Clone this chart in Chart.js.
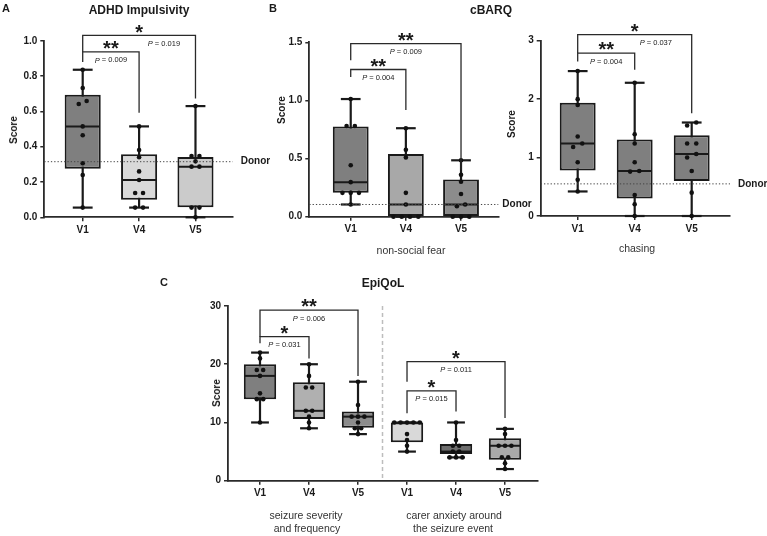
<!DOCTYPE html>
<html>
<head>
<meta charset="utf-8">
<script src="https://cdn.jsdelivr.net/npm/chart.js@4.4.1/dist/chart.umd.min.js"></script>
<style>
html,body{margin:0;padding:0;background:#fff;}
#stage{position:relative;width:767px;height:536px;overflow:hidden;font-family:"Liberation Sans",Arial,sans-serif;color:#1a1a1a;}
#stage canvas{position:absolute;left:0;top:0;}
.t{position:absolute;white-space:nowrap;transform:translate(-50%,-50%);line-height:1;}
.b{font-weight:bold;}
.letter{font-size:11px;font-weight:bold;}
.title{font-size:12px;font-weight:bold;}
.score{font-size:10px;font-weight:bold;transform:translate(-50%,-50%) rotate(-90deg);}
.sub{font-size:10.5px;color:#333;}
</style>
</head>
<body>
<div id="stage">
  <canvas id="cA" width="767" height="536"></canvas>
  <canvas id="cB1" width="767" height="536"></canvas>
  <canvas id="cB2" width="767" height="536"></canvas>
  <canvas id="cC" width="767" height="536"></canvas>

  <div class="t letter" style="left:6px;top:8px;">A</div>
  <div class="t title" style="left:139px;top:10px;">ADHD Impulsivity</div>
  <div class="t letter" style="left:273px;top:8px;">B</div>
  <div class="t title" style="left:491px;top:10px;">cBARQ</div>
  <div class="t letter" style="left:164px;top:282px;">C</div>
  <div class="t title" style="left:383px;top:283px;">EpiQoL</div>

  <div class="t score" style="left:14px;top:130px;">Score</div>
  <div class="t score" style="left:282px;top:110px;">Score</div>
  <div class="t score" style="left:512px;top:124px;">Score</div>
  <div class="t score" style="left:217px;top:393px;">Score</div>

  <div class="t sub" style="left:411px;top:250px;">non-social fear</div>
  <div class="t sub" style="left:637px;top:248px;">chasing</div>
  <div class="t sub" style="left:306px;top:515px;">seizure severity</div>
  <div class="t sub" style="left:307px;top:528px;">and frequency</div>
  <div class="t sub" style="left:454px;top:515px;">carer anxiety around</div>
  <div class="t sub" style="left:453px;top:528px;">the seizure event</div>
</div>

<script>
// ---------------- DATA ----------------
const visits = ['V1', 'V4', 'V5'];

// A: ADHD impulsivity
const adhdMin = [0.055, 0.055, 0.0];
const adhdQ1 = [0.275, 0.10, 0.057];
const adhdMedian = [0.515, 0.211, 0.287];
const adhdQ3 = [0.695, 0.357, 0.342];
const adhdMax = [0.836, 0.515, 0.63];
const adhdPoints = [
  [0.836, 0.733, 0.659, 0.642, 0.515, 0.465, 0.306, 0.24, 0.055],
  [0.515, 0.381, 0.34, 0.26, 0.211, 0.138, 0.138, 0.055, 0.055],
  [0.63, 0.347, 0.347, 0.317, 0.287, 0.287, 0.055, 0.055, 0.0]
];
const adhdDonor = 0.315;
const adhdStars = ['**', '*'];
const adhdP = ['0.009', '0.019'];

// B: cBARQ non-social fear
const fearMin = [0.105, 0, 0];
const fearQ1 = [0.205, 0, 0];
const fearMedian = [0.297, 0.105, 0.105];
const fearQ3 = [0.775, 0.54, 0.32];
const fearMax = [1.012, 0.761, 0.485];
const fearPoints = [
  [1.012, 0.78, 0.78, 0.442, 0.297, 0.205, 0.205, 0.205, 0.105],
  [0.761, 0.575, 0.51, 0.205, 0.105, 0, 0, 0, 0],
  [0.485, 0.36, 0.30, 0.195, 0.105, 0.09, 0, 0, 0]
];
const fearDonor = 0.105;
const fearStars = ['**', '**'];
const fearP = ['0.004', '0.009'];

// B: cBARQ chasing
const chaseMin = [0.42, 0, 0];
const chaseQ1 = [0.78, 0.30, 0.60];
const chaseMedian = [1.24, 0.77, 1.06];
const chaseQ3 = [1.94, 1.31, 1.38];
const chaseMax = [2.48, 2.28, 1.60];
const chasePoints = [
  [2.48, 2.0, 1.9, 1.36, 1.24, 1.18, 0.92, 0.62, 0.42],
  [2.28, 1.40, 1.24, 0.92, 0.77, 0.76, 0.36, 0.20, 0],
  [1.60, 1.55, 1.24, 1.24, 1.06, 1.0, 0.77, 0.40, 0]
];
const chaseDonor = 0.55;
const chaseStars = ['**', '*'];
const chaseP = ['0.004', '0.037'];

// C: EpiQoL seizure severity and frequency
const seizureMin = [10, 9, 8];
const seizureQ1 = [14, 10.6, 9.1];
const seizureMedian = [18, 12, 11];
const seizureQ3 = [20, 16.9, 11.9];
const seizureMax = [22, 20, 17];
const seizurePoints = [
  [22, 21, 19, 19, 18, 15, 14, 14, 10],
  [20, 18, 16, 16, 12, 12, 11, 10, 9],
  [17, 13, 11, 11, 11, 10, 9, 9, 8]
];
const seizureStars = ['*', '**'];
const seizureP = ['0.031', '0.006'];

// C: EpiQoL carer anxiety around the seizure event
const anxietyMin = [5, 4, 2];
const anxietyQ1 = [6.6, 4.6, 3.6];
const anxietyMedian = [10, 5, 6];
const anxietyQ3 = [10, 6.3, 7.3];
const anxietyMax = [10, 10, 8.9];
const anxietyPoints = [
  [10, 10, 10, 10, 10, 8, 7, 6, 5],
  [10, 7, 6, 6, 5, 5, 4, 4, 4],
  [8.9, 8, 6, 6, 6, 4, 4, 3, 2]
];
const anxietyStars = ['*', '*'];
const anxietyP = ['0.015', '0.011'];

// ---------------- RENDERING ----------------
const FONT = '"Liberation Sans", Arial, sans-serif';
Chart.defaults.font.family = FONT;
const YW = 30, XH = 30, PAGE_W = 767, PAGE_H = 536;

function swarm(vals, tol, step) {
  const idx = vals.map((v, i) => i).sort((a, b) => vals[a] - vals[b]);
  const off = new Array(vals.length).fill(0);
  let group = [idx[0]];
  const flush = () => {
    const n = group.length;
    group.forEach((k, j) => { off[k] = (j - (n - 1) / 2) * step; });
  };
  for (let m = 1; m < idx.length; m++) {
    if (vals[idx[m]] - vals[group[group.length - 1]] <= tol) group.push(idx[m]);
    else { flush(); group = [idx[m]]; }
  }
  flush();
  return off;
}

function drawP(ctx, text, cx, cy) {
  ctx.save();
  ctx.textBaseline = 'middle';
  ctx.textAlign = 'left';
  ctx.fillStyle = '#1a1a1a';
  const fi = 'italic 7.5px ' + FONT, fn = '7.5px ' + FONT;
  ctx.font = fi; const w1 = ctx.measureText('P').width;
  const rest = ' = ' + text;
  ctx.font = fn; const w2 = ctx.measureText(rest).width;
  let x = cx - (w1 + w2) / 2;
  ctx.font = fi; ctx.fillText('P', x, cy);
  ctx.font = fn; ctx.fillText(rest, x + w1, cy);
  ctx.restore();
}

function makeBoxChart(id, p) {
  const tol = 0.022 * p.yMax;
  const scatter = [];
  p.points.forEach((arr, i) => {
    const off = swarm(arr, tol, p.jitter);
    arr.forEach((v, k) => scatter.push({ x: i + off[k], y: v }));
  });
  const axisGrid = { display: true, drawOnChartArea: false, drawTicks: true, tickLength: 4, offset: false, color: '#2a2a2a', lineWidth: 1.5 };
  const axisBorder = { display: true, color: '#2a2a2a', width: 1.8 };
  const tickFont = { size: 10, weight: 'bold' };

  const decor = {
    id: 'decor',
    beforeDatasetsDraw(chart) {
      const ctx = chart.ctx, y = chart.scales.y, x = chart.scales.x;
      const bars = chart.getDatasetMeta(0).data;
      ctx.save();
      if (p.separator !== undefined) {
        ctx.strokeStyle = '#bdbdbd'; ctx.lineWidth = 1.5; ctx.setLineDash([4, 3]);
        const sx = x.getPixelForValue(p.separator);
        ctx.beginPath(); ctx.moveTo(sx, chart.chartArea.top); ctx.lineTo(sx, chart.chartArea.bottom); ctx.stroke();
        ctx.setLineDash([]);
      }
      ctx.strokeStyle = '#1a1a1a'; ctx.lineWidth = 2.2;
      p.min.forEach((mn, i) => {
        const bx = bars[i].x;
        ctx.beginPath(); ctx.moveTo(bx, y.getPixelForValue(mn)); ctx.lineTo(bx, y.getPixelForValue(p.max[i])); ctx.stroke();
      });
      ctx.restore();
    },
    afterDatasetDraw(chart, args) {
      if (args.index !== 0) return;
      const ctx = chart.ctx, y = chart.scales.y;
      const bars = chart.getDatasetMeta(0).data;
      ctx.save();
      ctx.strokeStyle = '#1a1a1a';
      p.min.forEach((mn, i) => {
        const bx = bars[i].x, w = bars[i].width;
        const cw = w * 0.55 / 2;
        ctx.lineWidth = 2.2;
        [mn, p.max[i]].forEach(v => {
          const py = y.getPixelForValue(v);
          ctx.beginPath(); ctx.moveTo(bx - cw, py); ctx.lineTo(bx + cw, py); ctx.stroke();
        });
        ctx.lineWidth = 2;
        const my = y.getPixelForValue(p.median[i]);
        ctx.beginPath(); ctx.moveTo(bx - w / 2 + 1, my); ctx.lineTo(bx + w / 2 - 1, my); ctx.stroke();
      });
      ctx.restore();
    },
    afterDatasetsDraw(chart) {
      if (p.donor === undefined) return;
      const ctx = chart.ctx, y = chart.scales.y, a = chart.chartArea;
      const dy = y.getPixelForValue(p.donor);
      ctx.save();
      ctx.strokeStyle = '#444'; ctx.lineWidth = 1; ctx.setLineDash([1.3, 2]);
      ctx.beginPath(); ctx.moveTo(a.left, dy); ctx.lineTo(a.right, dy); ctx.stroke();
      ctx.setLineDash([]);
      ctx.fillStyle = '#1a1a1a'; ctx.font = 'bold 10px ' + FONT;
      ctx.textAlign = 'left'; ctx.textBaseline = 'middle';
      ctx.fillText('Donor', a.right + p.donorGap, dy);
      ctx.restore();
    },
    afterDraw(chart) {
      const ctx = chart.ctx, x = chart.scales.x, y = chart.scales.y;
      ctx.save();
      p.brackets.forEach((br, k) => {
        const x1 = x.getPixelForValue(br.from), x2 = x.getPixelForValue(br.to);
        const yt = y.getPixelForValue(br.top);
        ctx.strokeStyle = '#2a2a2a'; ctx.lineWidth = 1.3;
        ctx.beginPath();
        ctx.moveTo(x1, y.getPixelForValue(br.leftEnd));
        ctx.lineTo(x1, yt); ctx.lineTo(x2, yt);
        ctx.lineTo(x2, y.getPixelForValue(br.rightEnd));
        ctx.stroke();
        ctx.fillStyle = '#1a1a1a';
        ctx.font = 'bold 20px ' + FONT; ctx.textAlign = 'center'; ctx.textBaseline = 'alphabetic';
        ctx.fillText(p.stars[k], (x1 + x2) / 2, yt - 8 + 0.57 * 20);
        drawP(ctx, p.pvals[k], x.getPixelForValue(br.pAt), yt + 8.5);
      });
      ctx.restore();
    }
  };

  return new Chart(document.getElementById(id), {
    type: 'bar',
    data: {
      datasets: [
        {
          type: 'bar',
          data: p.labels.map((_, i) => ({ x: i, y: [p.q1[i], p.q3[i]] })),
          backgroundColor: p.colors,
          borderColor: '#1a1a1a', borderWidth: 2, borderSkipped: false,
          barPercentage: p.barPct, categoryPercentage: 1, order: 2, clip: false
        },
        {
          type: 'scatter', data: scatter,
          pointRadius: 2.3, pointBackgroundColor: '#111', pointBorderWidth: 0,
          order: 1, clip: false
        }
      ]
    },
    options: {
      responsive: false, animation: false, events: [],
      layout: { padding: { left: p.area.l - YW, right: PAGE_W - p.area.r, top: p.area.t, bottom: PAGE_H - p.area.b - XH } },
      plugins: { legend: { display: false }, tooltip: { enabled: false }, title: { display: false } },
      scales: {
        x: {
          type: 'linear', min: p.xMin, max: p.xMax, offset: false,
          afterFit: s => { s.height = XH; },
          afterBuildTicks: s => { s.ticks = p.labels.map((_, i) => ({ value: i })); },
          ticks: { callback: v => p.labels[v], autoSkip: false, maxRotation: 0, padding: 3, font: tickFont, color: '#1a1a1a' },
          grid: axisGrid, border: axisBorder
        },
        y: {
          type: 'linear', min: 0, max: p.yMax,
          afterFit: s => { s.width = YW; },
          ticks: { stepSize: p.yStep, callback: v => v.toFixed(p.yDec), padding: 3, font: tickFont, color: '#1a1a1a' },
          grid: axisGrid, border: axisBorder
        }
      }
    },
    plugins: [decor]
  });
}

makeBoxChart('cA', {
  labels: visits, min: adhdMin, q1: adhdQ1, median: adhdMedian, q3: adhdQ3, max: adhdMax, points: adhdPoints,
  colors: ['#7f7f7f', '#d9d9d9', '#cbcbcb'],
  area: { l: 44.3, r: 232.7, t: 40.8, b: 217.3 }, xMin: -0.681, xMax: 2.66,
  yMax: 1.0, yStep: 0.2, yDec: 1, barPct: 0.64, jitter: 0.14,
  donor: adhdDonor, donorGap: 8,
  stars: adhdStars, pvals: adhdP,
  brackets: [
    { from: 0, to: 1, top: 0.937, leftEnd: 0.88, rightEnd: 0.593, pAt: 0.5 },
    { from: 0, to: 2, top: 1.031, leftEnd: 0.937, rightEnd: 0.673, pAt: 1.44 }
  ]
});

makeBoxChart('cB1', {
  labels: visits, min: fearMin, q1: fearQ1, median: fearMedian, q3: fearQ3, max: fearMax, points: fearPoints,
  colors: ['#7f7f7f', '#a8a8a8', '#8c8c8c'],
  area: { l: 309.3, r: 498.3, t: 42.3, b: 216.7 }, xMin: -0.751, xMax: 2.676,
  yMax: 1.5, yStep: 0.5, yDec: 1, barPct: 0.65, jitter: 0.15,
  donor: fearDonor, donorGap: 4,
  stars: fearStars, pvals: fearP,
  brackets: [
    { from: 0, to: 1, top: 1.266, leftEnd: 1.202, rightEnd: 0.917, pAt: 0.5 },
    { from: 0, to: 2, top: 1.488, leftEnd: 1.345, rightEnd: 0.403, pAt: 1.0 }
  ]
});

makeBoxChart('cB2', {
  labels: visits, min: chaseMin, q1: chaseQ1, median: chaseMedian, q3: chaseQ3, max: chaseMax, points: chasePoints,
  colors: ['#7f7f7f', '#7f7f7f', '#7f7f7f'],
  area: { l: 540.7, r: 730, t: 40.7, b: 216 }, xMin: -0.649, xMax: 2.672,
  yMax: 3, yStep: 1, yDec: 0, barPct: 0.63, jitter: 0.16,
  donor: chaseDonor, donorGap: 8,
  stars: chaseStars, pvals: chaseP,
  brackets: [
    { from: 0, to: 1, top: 2.789, leftEnd: 2.646, rightEnd: 2.503, pAt: 0.5 },
    { from: 0, to: 2, top: 3.103, leftEnd: 2.789, rightEnd: 1.76, pAt: 1.37 }
  ]
});

makeBoxChart('cC', {
  labels: visits.concat(visits),
  min: seizureMin.concat(anxietyMin), q1: seizureQ1.concat(anxietyQ1), median: seizureMedian.concat(anxietyMedian),
  q3: seizureQ3.concat(anxietyQ3), max: seizureMax.concat(anxietyMax), points: seizurePoints.concat(anxietyPoints),
  colors: ['#7f7f7f', '#b0b0b0', '#8c8c8c', '#d9d9d9', '#6e6e6e', '#a9a9a9'],
  area: { l: 228, r: 538, t: 306, b: 480.7 }, xMin: -0.653, xMax: 5.673,
  yMax: 30, yStep: 10, yDec: 0, barPct: 0.66, jitter: 0.13,
  separator: 2.5,
  stars: seizureStars.concat(anxietyStars), pvals: seizureP.concat(anxietyP),
  brackets: [
    { from: 0, to: 1, top: 24.74, leftEnd: 23.6, rightEnd: 21, pAt: 0.5 },
    { from: 0, to: 2, top: 29.3, leftEnd: 24.74, rightEnd: 18, pAt: 1 },
    { from: 3, to: 4, top: 15.43, leftEnd: 11.6, rightEnd: 11.9, pAt: 3.5 },
    { from: 3, to: 5, top: 20.46, leftEnd: 17.0, rightEnd: 10.75, pAt: 4 }
  ]
});
</script>
</body>
</html>
